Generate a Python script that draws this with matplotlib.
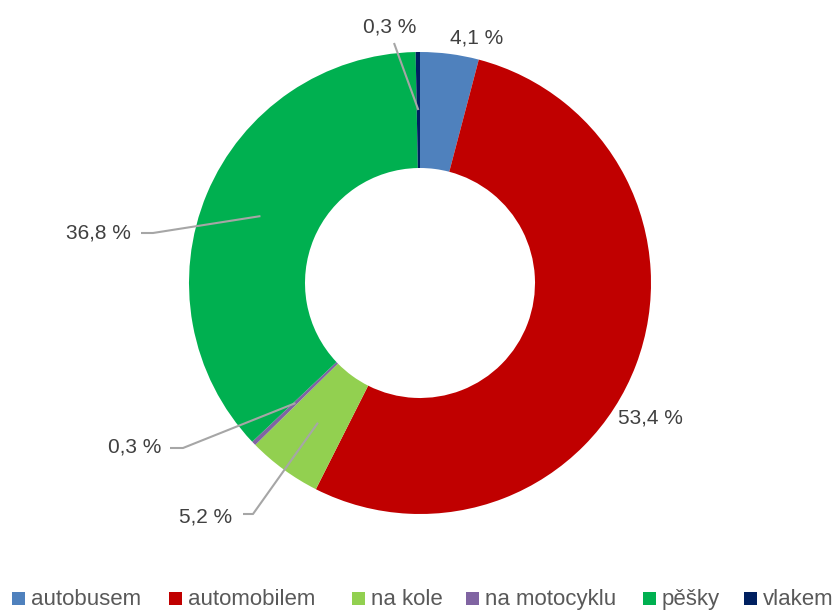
import matplotlib
matplotlib.use("Agg")
import matplotlib.pyplot as plt
from matplotlib.patches import Rectangle
import numpy as np

# ---- data ----
categories = ["autobusem", "automobilem", "na kole", "na motocyklu", "pěšky", "vlakem"]
values = [4.1, 53.4, 5.2, 0.3, 36.8, 0.3]
labels = ["4,1 %", "53,4 %", "5,2 %", "0,3 %", "36,8 %", "0,3 %"]
colors = ["#4F81BD", "#C00000", "#92D050", "#8064A2", "#00B050", "#002060"]

# ---- layout (pixel coordinates, y from top) ----
W, H = 839, 611
CX, CY = 420, 283
R_OUT, R_IN = 231, 115
# text position, elbow point, end of horizontal leader (None = absent)
label_layout = [
    ((477, 38), None, None),
    ((650, 418), None, None),
    ((206, 517), (253, 514), (243, 514)),
    ((135, 447), (183, 448), (170, 448)),
    ((98, 233), (153, 233), (141, 233)),
    ((390, 27), (394, 43), None),
]
legend_x = [12, 169, 352, 466, 643, 744]
LEG_SQ = 13
LEG_SQ_TOP = 592
LEG_BASE = 605
LEG_PAD = 19

plt.rcParams['font.family'] = ['Liberation Sans', 'DejaVu Sans']
fig = plt.figure(figsize=(W / 100, H / 100), dpi=100)
ax = fig.add_axes([0, 0, 1, 1])
ax.axis('off')

wedges, _ = ax.pie(values, colors=colors, startangle=90, counterclock=False,
                   center=(CX, H - CY), radius=R_OUT,
                   wedgeprops=dict(width=R_OUT - R_IN, linewidth=0))
ax.set_xlim(0, W)
ax.set_ylim(0, H)
ax.set_aspect('equal')

r_mid = (R_OUT + R_IN) / 2
cum = 0
for v, lab, (tpos, elbow, hend) in zip(values, labels, label_layout):
    mid = (cum + v / 2) / sum(values) * 2 * np.pi
    cum += v
    ax_x = CX + r_mid * np.sin(mid)
    ax_y = CY - r_mid * np.cos(mid)
    if elbow is not None:
        xs = [ax_x, elbow[0]]
        ys = [ax_y, elbow[1]]
        if hend is not None:
            xs.append(hend[0])
            ys.append(hend[1])
        ax.plot(xs, [H - y for y in ys], color="#A6A6A6", lw=1.5, solid_capstyle='butt')
    ax.text(tpos[0], H - tpos[1], lab, ha='center', va='center',
            fontsize=15, color="#404040")

# legend (single row at the bottom)
for cat, col, lx in zip(categories, colors, legend_x):
    ax.add_patch(Rectangle((lx, H - LEG_SQ_TOP - LEG_SQ), LEG_SQ, LEG_SQ,
                           facecolor=col, edgecolor='none', clip_on=False))
    ax.text(lx + LEG_PAD, H - LEG_BASE, cat, ha='left', va='baseline',
            fontsize=16, color="#595959", clip_on=False)

fig.savefig("out.png", dpi=100)
